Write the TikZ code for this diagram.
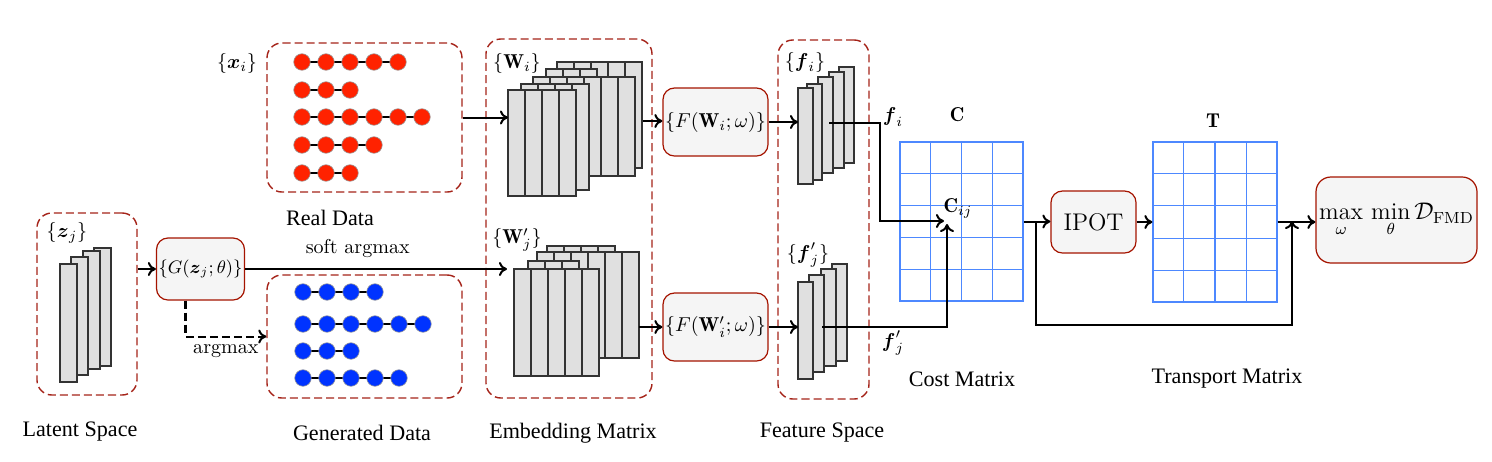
\documentclass[tikz,border=0pt]{standalone}
\usepackage{amsmath,amssymb}
\usepackage{fontspec}
\newfontfamily\labelfont{Liberation Serif}
\usetikzlibrary{calc,arrows.meta}
\newcommand{\pxu}{0.0175cm}
\definecolor{dashred}{RGB}{165,35,25}
\definecolor{boxred}{RGB}{165,20,0}
\definecolor{boxfill}{RGB}{245,245,245}
\definecolor{barfill}{RGB}{224,224,224}
\definecolor{dotred}{RGB}{255,34,0}
\definecolor{dotblue}{RGB}{0,51,255}
\definecolor{gridblue}{RGB}{77,136,255}
\tikzset{
  container/.style={draw=dashred, line width=0.7pt, dash pattern=on 4pt off 2pt, rounded corners=0.26cm, inner sep=0pt},
  opbox/.style={draw=boxred, fill=boxfill, semithick, rounded corners=0.2cm, inner sep=1pt},
  boxsize/.style 2 args={minimum width={#1*\pxu}, minimum height={#2*\pxu}},
  arr/.style={-{To[length=4pt,width=7pt]}, line width=1pt},
  barcell/.style={draw=black!80, fill=barfill, line width=0.6pt},
  gridbox/.style={draw=gridblue, semithick, inner sep=0pt},
  caption/.style={font=\labelfont\fontsize{11}{13}\selectfont},
}
\newcommand{\embedlayer}[4]{\foreach \k in {1,...,#3} {\draw[barcell] ({#1+(\k-1)*17},#2) rectangle ++(17,#4);}}
\newcommand{\dotrow}[4]{%
  \draw[thick] (#1,#2) -- ({#1+(#3-1)*24},#2);
  \foreach \k in {1,...,#3} {\filldraw[fill=#4, draw=black!40, line width=0.3pt] ({#1+(\k-1)*24},#2) circle[radius=0.145cm];}}

\begin{document}
\begin{tikzpicture}[x=\pxu, y=-\pxu]
    \useasboundingbox (0,0) rectangle (1492,461);

    \node[container, boxsize={100}{182}] (latent) at (87,304) {};
    \node[container, boxsize={195}{149}] (real) at (364.5,117.5) {};
    \node[container, boxsize={195}{123}] (gen) at (364.5,336.5) {};
    \node[container, boxsize={166}{359}] (embed) at (569,218.5) {};
    \node[container, boxsize={91}{359}] (feat) at (823.5,219.5) {};

    \node (zlab) at (67,233) {$\{\boldsymbol{z}_j\}$};
    \node (xlab) at (237,63) {$\{\boldsymbol{x}_i\}$};
    \node (wlab) at (517,63) {$\{\mathbf{W}_i\}$};
    \node (wplab) at (517,240) {$\{\mathbf{W}'_j\}$};
    \node (filab) at (805,62) {$\{\boldsymbol{f}_i\}$};
    \node (fjlab) at (808,255) {$\{\boldsymbol{f}'_j\}$};

    \foreach \x/\y in {94/248, 83/251, 71/257, 60/264}
        {\draw[barcell] (\x,\y) rectangle ++(17,118);}

    \foreach \n/\y in {5/62, 3/90, 6/117, 4/145, 3/173}
        {\dotrow{302}{\y}{\n}{dotred}}
    \foreach \n/\y in {4/292, 6/324, 3/351, 5/378}
        {\dotrow{303}{\y}{\n}{dotblue}}

    \embedlayer{557}{62}{5}{106}
    \embedlayer{546}{69}{3}{106}
    \embedlayer{533}{77}{6}{99}
    \embedlayer{521}{84}{4}{106}
    \embedlayer{508}{90}{4}{106}

    \embedlayer{547}{246}{4}{106}
    \embedlayer{537}{252}{6}{106}
    \embedlayer{528}{261}{3}{106}
    \embedlayer{514}{269}{5}{107}

    \foreach \x/\y in {839/67, 829/72, 818/77, 807/84, 798/88}
        {\draw[barcell] (\x,\y) rectangle ++(15,96);}
    \foreach \x/\y in {832/264, 821/269, 809/275, 798/282}
        {\draw[barcell] (\x,\y) rectangle ++(15,97);}

    \node[opbox, boxsize={85}{62}, font=\small] (G) at (200.5,269) {$\{G(\boldsymbol{z}_j;\theta)\}$};
    \node[opbox, boxsize={103}{68}] (Fw) at (715.5,122) {$\{F(\mathbf{W}_i;\omega)\}$};
    \node[opbox, boxsize={103}{68}] (Fwp) at (715.5,327) {$\{F(\mathbf{W}'_i;\omega)\}$};
    \node[opbox, boxsize={85}{62}, font=\large] (ipot) at (1093.5,222) {IPOT};
    \node[opbox, boxsize={161}{86}, rounded corners=0.26cm, font=\large] (fmd) at (1396.5,220)
        {$\max\limits_{\omega}\,\min\limits_{\theta}\mathcal{D}_{\mathrm{FMD}}$};

    \node[gridbox, boxsize={123}{159}] (cost) at (961.5,221.5) {};
    \node[gridbox, boxsize={124}{160}] (trans) at (1215,222) {};
    \foreach \g in {cost, trans} {
        \foreach \k in {1,2,3}
            {\draw[gridblue, semithick] ($(\g.north west)!\k/4!(\g.north east)$) -- ($(\g.south west)!\k/4!(\g.south east)$);}
        \foreach \k in {1,...,4}
            {\draw[gridblue, semithick] ($(\g.north west)!\k/5!(\g.south west)$) -- ($(\g.north east)!\k/5!(\g.south east)$);}
    }
    \node (clab) at (957,115) {$\mathbf{C}$};
    \node (tlab) at (1213,121) {$\mathbf{T}$};
    \node (cijlab) at (958,208) {$\mathbf{C}_{ij}$};

    \coordinate (wpin) at (507,267);
    \coordinate (win) at (508,119);
    \coordinate (wout) at (643,121);
    \coordinate (wpout) at (639,327);
    \coordinate (fin) at (798,122);
    \coordinate (fpin) at (798,327);
    \coordinate (fiout) at (829,123);
    \coordinate (fjout) at (822,327);
    \coordinate (cijin) at (944,221);
    \coordinate (cijup) at (947,224);
    \coordinate (split) at (1036,222);
    \coordinate (join) at (1292,221);

    \draw[arr] (latent.east |- G.west) -- (G.west);
    \draw[arr] (G.east) -- (G.east -| wpin) node[pos=0.43, above=2pt] (soft) {soft argmax};
    \draw[arr, dash pattern=on 4pt off 2pt] ([xshift={-15*\pxu}]G.south) |- (gen.west) node[pos=0.75, below] (amax) {argmax};
    \draw[arr] (real.east) -- (real.east -| win);
    \draw[arr] (wout) -- (wout -| Fw.west);
    \draw[arr] (wpout) -- (wpout -| Fwp.west);
    \draw[arr] (Fw.east) -- (Fw.east -| fin);
    \draw[arr] (Fwp.east) -- (Fwp.east -| fpin);
    \draw[arr] (fiout) -- ++(51,0) |- (cijin);
    \draw[arr] (fjout) -| (cijup);
    \node (fitxt) at (893,117) {$\boldsymbol{f}_i$};
    \node (fjtxt) at (893,343) {$\boldsymbol{f}'_j$};
    \draw[arr] (cost.east) -- (cost.east -| ipot.west);
    \draw[arr] (ipot.east) -- (ipot.east -| trans.west);
    \draw[arr] (trans.east) -- (trans.east -| fmd.west);
    \draw[arr] (split) -- ++(0,103) -| (join);

    \node[caption] (latentlab) at (80,432) {Latent Space};
    \node[caption] (reallab) at (330,218) {Real Data};
    \node[caption] (genlab) at (362,433) {Generated Data};
    \node[caption] (embedlab) at (573,433) {Embedding Matrix};
    \node[caption] (featlab) at (822,433) {Feature Space};
    \node[caption] (costlab) at (962,379) {Cost Matrix};
    \node[caption] (translab) at (1227,379) {Transport Matrix};
\end{tikzpicture}
\end{document}
